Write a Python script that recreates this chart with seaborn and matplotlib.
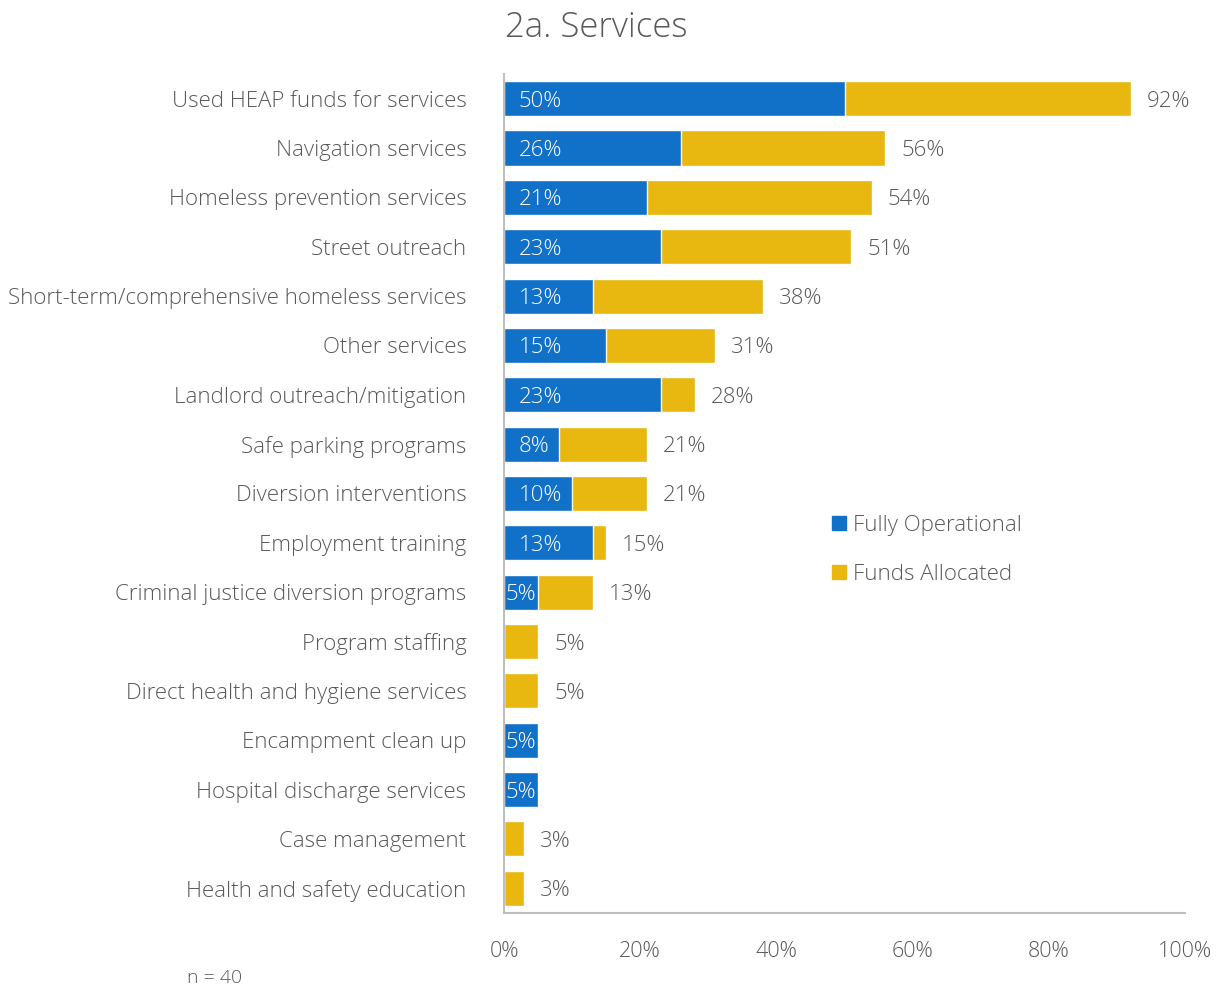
import matplotlib
matplotlib.use("Agg")
import matplotlib.pyplot as plt
import seaborn as sns
import pandas as pd
from matplotlib.lines import Line2D

# Survey results: share of respondents (n = 40)
categories = [
    "Used HEAP funds for services",
    "Navigation services",
    "Homeless prevention services",
    "Street outreach",
    "Short-term/comprehensive homeless services",
    "Other services",
    "Landlord outreach/mitigation",
    "Safe parking programs",
    "Diversion interventions",
    "Employment training",
    "Criminal justice diversion programs",
    "Program staffing",
    "Direct health and hygiene services",
    "Encampment clean up",
    "Hospital discharge services",
    "Case management",
    "Health and safety education",
]
fully_operational = [50, 26, 21, 23, 13, 15, 23, 8, 10, 13, 5, 0, 0, 5, 5, 0, 0]
funds_allocated_total = [92, 56, 54, 51, 38, 31, 28, 21, 21, 15, 13, 5, 5, 5, 5, 3, 3]
x_ticks = [0, 20, 40, 60, 80, 100]

BLUE = "#1170C8"
GOLD = "#E8B710"
TEXT = "#595959"
AXIS = "#BFBFBF"

sns.set_theme(style="white")
plt.rcParams["font.family"] = ["Open Sans", "DejaVu Sans"]
plt.rcParams["font.weight"] = "light"

df = pd.DataFrame({
    "category": categories,
    "fully": fully_operational,
    "total": funds_allocated_total,
})

fig = plt.figure(figsize=(12.21, 9.90), dpi=100)
ax = fig.add_axes([0.4128, 0.0778, 0.5577, 0.8475])

sns.barplot(data=df, y="category", x="total", color=GOLD, orient="h",
            width=0.71, saturation=1, ax=ax, order=categories)
sns.barplot(data=df, y="category", x="fully", color=BLUE, orient="h",
            width=0.71, saturation=1, ax=ax, order=categories)

ax.set_xlim(0, 100)
ax.set_ylim(len(categories) - 0.5, -0.5)
ax.set_xticks(x_ticks)
ax.set_xticklabels([f"{t}%" for t in x_ticks], fontsize=15.5, color=TEXT)
ax.tick_params(axis="x", length=0, pad=20)
ax.tick_params(axis="y", length=0, pad=27)
ax.set_yticks(range(len(categories)))
ax.set_yticklabels(categories, fontsize=16, color=TEXT)
for lbl in ax.get_yticklabels():
    lbl.set_verticalalignment("center_baseline")
ax.set_xlabel("")
ax.set_ylabel("")

for side in ["top", "right"]:
    ax.spines[side].set_visible(False)
for side in ["left", "bottom"]:
    ax.spines[side].set_color(AXIS)
    ax.spines[side].set_linewidth(1.5)

# Value labels
for i, (f, t) in enumerate(zip(fully_operational, funds_allocated_total)):
    if f > 0:
        if f < 6:
            ax.text(f / 2, i, f"{f}%", ha="center", va="center_baseline",
                    color="white", fontsize=16)
        else:
            ax.annotate(f"{f}%", xy=(0, i), xytext=(10.5, 0),
                        textcoords="offset points", ha="left",
                        va="center_baseline", color="white", fontsize=16)
    if t > f:
        ax.annotate(f"{t}%", xy=(t, i), xytext=(11.5, 0),
                    textcoords="offset points", ha="left",
                    va="center_baseline", color=TEXT, fontsize=16)

# Legend
handles = [
    Line2D([0], [0], marker="s", linestyle="none", markersize=10,
           markerfacecolor=BLUE, markeredgecolor=BLUE, label="Fully Operational"),
    Line2D([0], [0], marker="s", linestyle="none", markersize=10,
           markerfacecolor=GOLD, markeredgecolor=GOLD, label="Funds Allocated"),
]
leg = ax.legend(handles=handles, loc="upper left", bbox_to_anchor=(0.46, 0.485),
                frameon=False, fontsize=16, handletextpad=0.0,
                labelspacing=1.25, handlelength=1.2, borderaxespad=0)
for txt in leg.get_texts():
    txt.set_color(TEXT)

fig.text(596 / 1221, 1 - 28 / 990, "2a. Services", ha="center", va="center",
         fontsize=25, color=TEXT)
fig.text(187 / 1221, 1 - 978 / 990, "n = 40", ha="left", va="center",
         fontsize=14, color=TEXT)

fig.savefig("out.png", dpi=100)
